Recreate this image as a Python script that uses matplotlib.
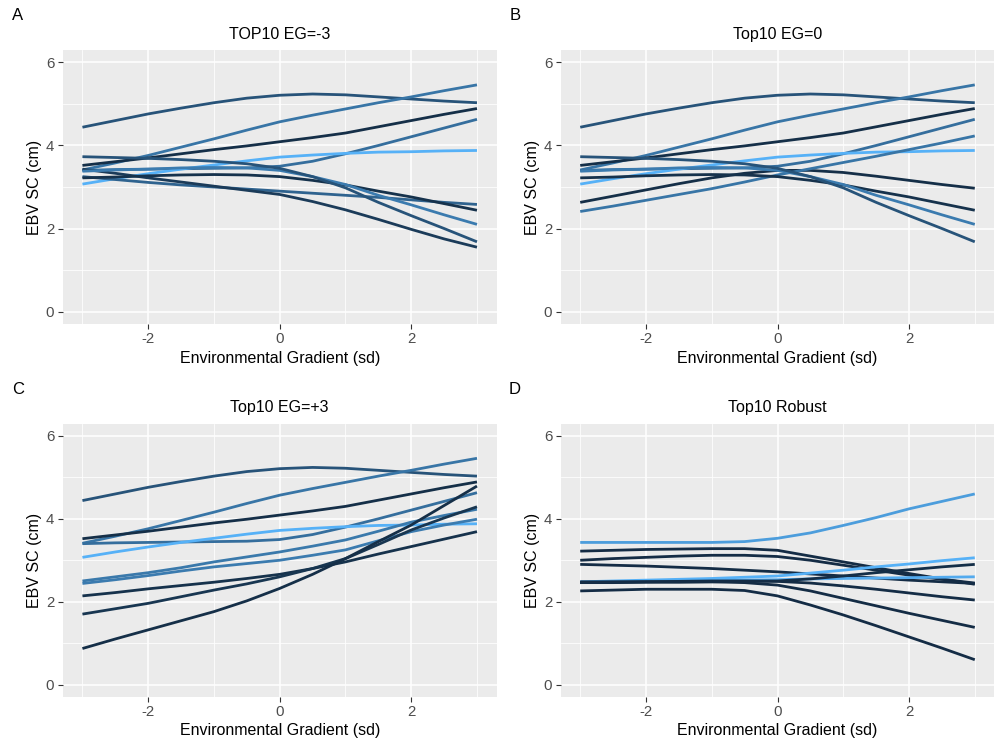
import matplotlib
matplotlib.use("Agg")
import matplotlib.pyplot as plt
import numpy as np

plt.rcParams['font.family'] = ['Liberation Sans', 'DejaVu Sans']

# ---------------- data ----------------
eg = [-3, -2.5, -2, -1.5, -1, -0.5, 0, 0.5, 1, 1.5, 2, 2.5, 3]

top = [4.44, 4.60, 4.76, 4.90, 5.03, 5.14, 5.21, 5.24, 5.22, 5.17, 5.12, 5.07, 5.03]
l545 = [3.41, 3.58, 3.76, 3.96, 4.16, 4.37, 4.57, 4.73, 4.88, 5.03, 5.17, 5.32, 5.46]
d489 = [3.52, 3.61, 3.70, 3.80, 3.90, 3.99, 4.09, 4.19, 4.30, 4.45, 4.60, 4.75, 4.89]
l463 = [3.40, 3.42, 3.43, 3.44, 3.45, 3.46, 3.50, 3.62, 3.80, 4.00, 4.21, 4.42, 4.63]
lb = [3.07, 3.20, 3.32, 3.43, 3.53, 3.63, 3.72, 3.77, 3.81, 3.84, 3.85, 3.87, 3.88]
l258 = [3.25, 3.18, 3.11, 3.05, 3.00, 2.95, 2.90, 2.85, 2.80, 2.75, 2.69, 2.63, 2.58]
l155 = [3.43, 3.33, 3.22, 3.12, 3.02, 2.92, 2.82, 2.65, 2.45, 2.22, 1.98, 1.75, 1.55]
l244 = [3.22, 3.24, 3.27, 3.29, 3.30, 3.29, 3.25, 3.16, 3.05, 2.90, 2.76, 2.60, 2.44]
l210 = [3.38, 3.41, 3.43, 3.46, 3.47, 3.46, 3.40, 3.25, 3.06, 2.80, 2.57, 2.33, 2.10]
l168 = [3.73, 3.71, 3.69, 3.66, 3.62, 3.56, 3.45, 3.25, 2.98, 2.63, 2.31, 2.00, 1.68]

b297 = [2.63, 2.78, 2.93, 3.08, 3.22, 3.33, 3.40, 3.40, 3.35, 3.26, 3.16, 3.06, 2.97]
b423 = [2.41, 2.54, 2.68, 2.82, 2.96, 3.12, 3.29, 3.44, 3.59, 3.74, 3.90, 4.06, 4.23]

ca = [2.50, 2.60, 2.70, 2.82, 2.96, 3.08, 3.20, 3.34, 3.49, 3.70, 3.92, 4.08, 4.23]
cb = [2.44, 2.53, 2.63, 2.74, 2.84, 2.92, 3.00, 3.12, 3.25, 3.47, 3.69, 3.85, 3.99]
cc = [2.14, 2.22, 2.31, 2.39, 2.47, 2.56, 2.66, 2.80, 2.96, 3.15, 3.33, 3.51, 3.69]
cd = [1.70, 1.83, 1.96, 2.12, 2.28, 2.43, 2.60, 2.80, 3.04, 3.38, 3.73, 4.02, 4.29]
ce = [0.87, 1.10, 1.32, 1.54, 1.76, 2.02, 2.32, 2.66, 3.04, 3.45, 3.85, 4.32, 4.79]

dd1 = [3.43, 3.43, 3.43, 3.43, 3.43, 3.45, 3.53, 3.66, 3.84, 4.03, 4.24, 4.42, 4.60]
dd2 = [3.22, 3.24, 3.26, 3.27, 3.28, 3.28, 3.24, 3.10, 2.96, 2.82, 2.68, 2.55, 2.42]
dd3 = [3.00, 3.04, 3.07, 3.10, 3.12, 3.12, 3.09, 3.00, 2.88, 2.76, 2.64, 2.54, 2.45]
dd4 = [2.90, 2.88, 2.86, 2.83, 2.80, 2.76, 2.72, 2.67, 2.62, 2.57, 2.52, 2.48, 2.44]
dlbA = [2.48, 2.50, 2.52, 2.54, 2.56, 2.59, 2.62, 2.69, 2.76, 2.84, 2.91, 2.99, 3.06]
dlbB = [2.46, 2.48, 2.49, 2.50, 2.51, 2.52, 2.53, 2.55, 2.56, 2.57, 2.58, 2.59, 2.60]
ddG = [2.46, 2.46, 2.47, 2.47, 2.48, 2.49, 2.50, 2.55, 2.62, 2.70, 2.77, 2.84, 2.90]
ddE = [2.46, 2.47, 2.48, 2.49, 2.50, 2.50, 2.49, 2.45, 2.38, 2.30, 2.21, 2.12, 2.04]
ddF = [2.48, 2.48, 2.48, 2.48, 2.48, 2.46, 2.40, 2.26, 2.08, 1.90, 1.72, 1.55, 1.38]
ddlow = [2.26, 2.28, 2.30, 2.30, 2.30, 2.27, 2.14, 1.92, 1.68, 1.42, 1.15, 0.88, 0.60]

titles = ["TOP10 EG=-3", "Top10 EG=0", "Top10 EG=+3", "Top10 Robust"]
tags = ["A", "B", "C", "D"]

panelA = [top, l545, d489, l463, lb, l258, l155, l244, l210, l168]
colA = [0.30, 0.55, 0.03, 0.50, 1.00, 0.42, 0.12, 0.05, 0.60, 0.30]
panelB = [top, l545, d489, l463, lb, b297, b423, l244, l210, l168]
colB = [0.30, 0.55, 0.03, 0.50, 1.00, 0.03, 0.55, 0.05, 0.60, 0.30]
panelC = [top, l545, d489, l463, lb, ca, cb, cc, cd, ce]
colC = [0.30, 0.55, 0.03, 0.50, 1.00, 0.58, 0.60, 0.05, 0.08, 0.03]
panelD = [dd1, dd2, dd3, dd4, dlbA, dlbB, ddG, ddE, ddF, ddlow]
colD = [0.85, 0.01, 0.01, 0.01, 1.00, 0.95, 0.02, 0.01, 0.01, 0.01]

panels = [panelA, panelB, panelC, panelD]
colvals = [colA, colB, colC, colD]

# ---------------- drawing ----------------
W, H = 995, 741
fig = plt.figure(figsize=(W / 100, H / 100), dpi=100)

lo = np.array([0x13, 0x2B, 0x43]) / 255
hi = np.array([0x56, 0xB1, 0xF7]) / 255


def col(v):
    return tuple(lo + (hi - lo) * v)


rects = [
    (62.7, 50, 496.7, 324),
    (560.5, 50, 994.5, 324),
    (62.7, 423.5, 496.7, 697),
    (560.5, 423.5, 994.5, 697),
]

for i, (x0, y0, x1, y1) in enumerate(rects):
    ax = fig.add_axes([x0 / W, 1 - y1 / H, (x1 - x0) / W, (y1 - y0) / H])
    ax.set_facecolor('#EBEBEB')
    for s in ax.spines.values():
        s.set_visible(False)
    ax.set_xlim(-3.3, 3.3)
    ax.set_ylim(-0.3, 6.3)
    ax.set_xticks([-2, 0, 2])
    ax.set_xticks([-3, -1, 1, 3], minor=True)
    ax.set_yticks([0, 2, 4, 6])
    ax.set_yticks([1, 3, 5], minor=True)
    ax.grid(True, which='major', color='white', linewidth=1.1)
    ax.grid(True, which='minor', color='white', linewidth=0.55)
    ax.set_axisbelow(True)
    ax.tick_params(which='major', length=3.5, width=0.8, color='#333333',
                   labelcolor='#4D4D4D', labelsize=10.8, pad=2.5)
    ax.tick_params(which='minor', length=0)
    ax.set_xticklabels(['-2', '0', '2'])
    for ys, v in zip(panels[i], colvals[i]):
        ax.plot(eg, ys, color=col(v), linewidth=2.0, solid_capstyle='butt')
    ax.set_title(titles[i], fontsize=11.5, pad=8, color='black')
    ax.set_xlabel('Environmental Gradient (sd)', fontsize=11.5, labelpad=3)
    ax.set_ylabel('EBV SC (cm)', fontsize=11.5, labelpad=3)

for t, (px, py) in zip(tags, [(18, 16), (515, 16), (18, 390), (515, 390)]):
    fig.text(px / W, 1 - py / H, t, fontsize=12, ha='center', va='center')

fig.savefig('out.png', dpi=100)
